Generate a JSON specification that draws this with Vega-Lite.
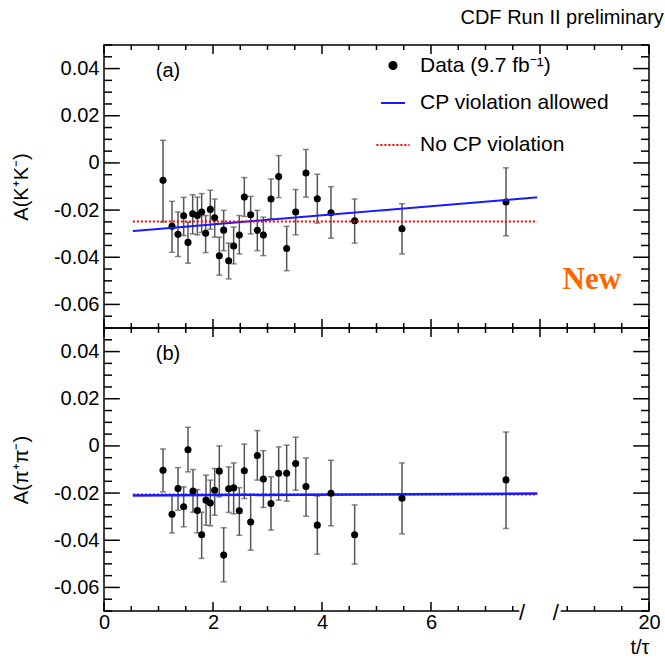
{
  "$schema": "https://vega.github.io/schema/vega-lite/v6.json",
  "background": "white",
  "padding": {"left": 10, "top": 7, "right": 5, "bottom": 5},
  "config": {
    "font": "Liberation Sans",
    "view": {"stroke": "black", "strokeWidth": 1.5},
    "axis": {"labelFont": "Liberation Sans", "labelFontSize": 20, "labelColor": "black", "titleFont": "Liberation Sans", "titleFontSize": 20, "titleFontWeight": "normal", "titleColor": "black", "ticks": false, "domain": false, "grid": false, "labelFlush": false, "labelOverlap": false}
  },
  "title": {"text": "CDF Run II preliminary", "anchor": "end", "fontSize": 20, "fontWeight": "normal", "font": "Liberation Sans", "color": "black", "dx": 3, "offset": 16},
  "datasets": {
    "kk": [
      {"t": 1.083, "A": -0.0074, "hi": 0.0096, "lo": -0.0251},
      {"t": 1.248, "A": -0.0269, "hi": -0.0163, "lo": -0.0379},
      {"t": 1.358, "A": -0.0303, "hi": -0.0208, "lo": -0.0397},
      {"t": 1.462, "A": -0.0224, "hi": -0.0146, "lo": -0.0308},
      {"t": 1.541, "A": -0.0337, "hi": -0.0251, "lo": -0.0425},
      {"t": 1.627, "A": -0.0216, "hi": -0.0135, "lo": -0.0301},
      {"t": 1.713, "A": -0.0223, "hi": -0.0145, "lo": -0.0305},
      {"t": 1.792, "A": -0.0208, "hi": -0.013, "lo": -0.0295},
      {"t": 1.865, "A": -0.0298, "hi": -0.0223, "lo": -0.038},
      {"t": 1.951, "A": -0.0197, "hi": -0.0116, "lo": -0.0281},
      {"t": 2.031, "A": -0.0233, "hi": -0.0153, "lo": -0.0315},
      {"t": 2.116, "A": -0.0394, "hi": -0.0315, "lo": -0.0476},
      {"t": 2.196, "A": -0.0285, "hi": -0.0201, "lo": -0.0372},
      {"t": 2.287, "A": -0.0415, "hi": -0.034, "lo": -0.0492},
      {"t": 2.379, "A": -0.0352, "hi": -0.0272, "lo": -0.0428},
      {"t": 2.483, "A": -0.0306, "hi": -0.0223, "lo": -0.0386},
      {"t": 2.575, "A": -0.0145, "hi": -0.0062, "lo": -0.0227},
      {"t": 2.691, "A": -0.022, "hi": -0.0142, "lo": -0.0301},
      {"t": 2.813, "A": -0.0286, "hi": -0.0201, "lo": -0.0372},
      {"t": 2.924, "A": -0.0306, "hi": -0.023, "lo": -0.0393},
      {"t": 3.064, "A": -0.0153, "hi": -0.0068, "lo": -0.0237},
      {"t": 3.205, "A": -0.0058, "hi": 0.0031, "lo": -0.0147},
      {"t": 3.352, "A": -0.0363, "hi": -0.0269, "lo": -0.0457},
      {"t": 3.517, "A": -0.0208, "hi": -0.0113, "lo": -0.0305},
      {"t": 3.706, "A": -0.0043, "hi": 0.0057, "lo": -0.0145},
      {"t": 3.914, "A": -0.0152, "hi": -0.0048, "lo": -0.0255},
      {"t": 4.165, "A": -0.0211, "hi": -0.0101, "lo": -0.0319},
      {"t": 4.599, "A": -0.0245, "hi": -0.0153, "lo": -0.034},
      {"t": 5.468, "A": -0.0279, "hi": -0.0173, "lo": -0.0386},
      {"t": 7.376, "A": -0.0166, "hi": -0.0021, "lo": -0.0309}
    ],
    "pipi": [
      {"t": 1.083, "A": -0.0103, "hi": -0.0013, "lo": -0.0195},
      {"t": 1.248, "A": -0.029, "hi": -0.0209, "lo": -0.0369},
      {"t": 1.358, "A": -0.0181, "hi": -0.0092, "lo": -0.0273},
      {"t": 1.462, "A": -0.0258, "hi": -0.0174, "lo": -0.0343},
      {"t": 1.541, "A": -0.0016, "hi": 0.0079, "lo": -0.011},
      {"t": 1.633, "A": -0.0191, "hi": -0.01, "lo": -0.0281},
      {"t": 1.713, "A": -0.0274, "hi": -0.0185, "lo": -0.0369},
      {"t": 1.792, "A": -0.0377, "hi": -0.0281, "lo": -0.0477},
      {"t": 1.872, "A": -0.023, "hi": -0.0124, "lo": -0.0336},
      {"t": 1.951, "A": -0.0242, "hi": -0.0145, "lo": -0.0339},
      {"t": 2.031, "A": -0.0188, "hi": -0.0096, "lo": -0.0294},
      {"t": 2.116, "A": -0.0107, "hi": 0.0, "lo": -0.0216},
      {"t": 2.196, "A": -0.0463, "hi": -0.0347, "lo": -0.0576},
      {"t": 2.287, "A": -0.0182, "hi": -0.0089, "lo": -0.0282},
      {"t": 2.379, "A": -0.0178, "hi": -0.0072, "lo": -0.0288},
      {"t": 2.483, "A": -0.0275, "hi": -0.0177, "lo": -0.0379},
      {"t": 2.575, "A": -0.0105, "hi": 0.0008, "lo": -0.0223},
      {"t": 2.691, "A": -0.0323, "hi": -0.0209, "lo": -0.0442},
      {"t": 2.813, "A": -0.0041, "hi": 0.0065, "lo": -0.0145},
      {"t": 2.924, "A": -0.014, "hi": -0.002, "lo": -0.0261},
      {"t": 3.064, "A": -0.0244, "hi": -0.0131, "lo": -0.0357},
      {"t": 3.205, "A": -0.0116, "hi": -0.0004, "lo": -0.023},
      {"t": 3.352, "A": -0.0116, "hi": 0.0003, "lo": -0.0234},
      {"t": 3.517, "A": -0.0075, "hi": 0.0037, "lo": -0.0188},
      {"t": 3.706, "A": -0.0172, "hi": -0.0051, "lo": -0.0298},
      {"t": 3.914, "A": -0.0336, "hi": -0.0213, "lo": -0.0459},
      {"t": 4.165, "A": -0.0201, "hi": -0.0061, "lo": -0.0339},
      {"t": 4.599, "A": -0.0377, "hi": -0.025, "lo": -0.0501},
      {"t": 5.468, "A": -0.0222, "hi": -0.0072, "lo": -0.0373},
      {"t": 7.376, "A": -0.0144, "hi": 0.0059, "lo": -0.035}
    ],
    "kkfit": [
      {"t": 0.53, "A": -0.0289, "model": "CP violation allowed"},
      {"t": 7.95, "A": -0.0146, "model": "CP violation allowed"},
      {"t": 0.53, "A": -0.0248, "model": "No CP violation"},
      {"t": 7.95, "A": -0.0248, "model": "No CP violation"}
    ],
    "pipifit": [
      {"t": 0.53, "A": -0.0206, "model": "No CP violation"},
      {"t": 7.95, "A": -0.0206, "model": "No CP violation"},
      {"t": 0.53, "A": -0.0210, "model": "CP violation allowed"},
      {"t": 7.95, "A": -0.0202, "model": "CP violation allowed"}
    ],
    "ymaj": [{"at": -0.06}, {"at": -0.04}, {"at": -0.02}, {"at": 0}, {"at": 0.02}, {"at": 0.04}],
    "ymin": [{"at": -0.07}, {"at": -0.065}, {"at": -0.055}, {"at": -0.05}, {"at": -0.045}, {"at": -0.035}, {"at": -0.03}, {"at": -0.025}, {"at": -0.015}, {"at": -0.01}, {"at": -0.005}, {"at": 0.005}, {"at": 0.01}, {"at": 0.015}, {"at": 0.025}, {"at": 0.03}, {"at": 0.035}, {"at": 0.045}, {"at": 0.05}],
    "xmaj": [{"at": 0}, {"at": 2}, {"at": 4}, {"at": 6}, {"at": 8}, {"at": 10}],
    "xmajb": [{"at": 0}, {"at": 2}, {"at": 4}, {"at": 6}, {"at": 10}],
    "xmin": [{"at": 0.5}, {"at": 1}, {"at": 1.5}, {"at": 2.5}, {"at": 3}, {"at": 3.5}, {"at": 4.5}, {"at": 5}, {"at": 5.5}, {"at": 6.5}, {"at": 7}, {"at": 7.5}, {"at": 8.5}, {"at": 9}, {"at": 9.5}]
  },
  "spacing": 0,
  "bounds": "flush",
  "vconcat": [
    {
      "width": 545,
      "height": 283,
      "layer": [
        {
          "data": {"name": "kk"},
          "mark": {"type": "rule", "color": "#555", "strokeWidth": 1.5},
          "encoding": {
            "x": {"field": "t", "type": "quantitative", "scale": {"domain": [0, 10], "nice": false, "zero": false}, "axis": null},
            "y": {"field": "lo", "type": "quantitative", "scale": {"domain": [-0.07, 0.05], "nice": false, "zero": false},
              "axis": {"orient": "left", "title": "A(K⁺K⁻)", "titlePadding": 22,
                "values": [-0.06, -0.04, -0.02, 0, 0.02, 0.04],
                "labelExpr": "datum.value == 0 ? '0' : (datum.value < 0 ? '-' : '') + format(abs(datum.value), '.2f')",
                "labelPadding": 5}},
            "y2": {"field": "hi"}
          }
        },
        {"data": {"name": "kk"}, "mark": {"type": "tick", "orient": "horizontal", "size": 6, "thickness": 1.5, "color": "#555"},
          "encoding": {"x": {"field": "t", "type": "quantitative", "axis": null}, "y": {"field": "lo", "type": "quantitative", "axis": null}}},
        {"data": {"name": "kk"}, "mark": {"type": "tick", "orient": "horizontal", "size": 6, "thickness": 1.5, "color": "#555"},
          "encoding": {"x": {"field": "t", "type": "quantitative", "axis": null}, "y": {"field": "hi", "type": "quantitative", "axis": null}}},
        {
          "data": {"name": "kk"},
          "mark": {"type": "point", "filled": true, "opacity": 1, "strokeWidth": 0},
          "encoding": {
            "x": {"field": "t", "type": "quantitative", "axis": null},
            "y": {"field": "A", "type": "quantitative", "axis": null},
            "color": {"datum": "Data (9.7 fb⁻¹)", "type": "nominal",
              "scale": {"domain": ["Data (9.7 fb⁻¹)", "CP violation allowed", "No CP violation"], "range": ["black", "#1a1aff", "#ff0000"]},
              "legend": {"orient": "none", "legendX": 271, "legendY": 10, "title": null, "labelFontSize": 21, "labelFont": "Liberation Sans", "labelColor": "black", "labelLimit": 0, "symbolStrokeWidth": 2, "rowPadding": 14, "labelOffset": 9}},
            "shape": {"datum": "Data (9.7 fb⁻¹)", "type": "nominal",
              "scale": {"domain": ["Data (9.7 fb⁻¹)", "CP violation allowed", "No CP violation"], "range": ["circle", "stroke", "stroke"]},
              "legend": {"orient": "none", "legendX": 271, "legendY": 10, "title": null, "labelFontSize": 21, "labelFont": "Liberation Sans", "labelColor": "black", "labelLimit": 0, "symbolStrokeWidth": 2, "rowPadding": 14, "labelOffset": 9}},
            "size": {"datum": "Data (9.7 fb⁻¹)", "type": "nominal",
              "scale": {"domain": ["Data (9.7 fb⁻¹)", "CP violation allowed", "No CP violation"], "range": [50, 1100, 1100]},
              "legend": {"orient": "none", "legendX": 271, "legendY": 10, "title": null, "labelFontSize": 21, "labelFont": "Liberation Sans", "labelColor": "black", "labelLimit": 0, "symbolStrokeWidth": 2, "rowPadding": 14, "labelOffset": 9}}
          }
        },
        {
          "data": {"name": "kkfit"},
          "mark": {"type": "line", "strokeWidth": 2},
          "encoding": {
            "x": {"field": "t", "type": "quantitative", "axis": null},
            "y": {"field": "A", "type": "quantitative", "axis": null},
            "color": {"field": "model", "type": "nominal"},
            "strokeDash": {"field": "model", "type": "nominal",
              "scale": {"domain": ["Data (9.7 fb⁻¹)", "CP violation allowed", "No CP violation"], "range": [[1, 0], [1, 0], [2, 2]]},
              "legend": {"orient": "none", "legendX": 271, "legendY": 10, "title": null, "labelFontSize": 21, "labelFont": "Liberation Sans", "labelColor": "black", "labelLimit": 0, "symbolStrokeWidth": 2, "rowPadding": 14, "labelOffset": 9}}
          }
        },
        {
          "data": {"values": [{"label": "(a)"}]},
          "mark": {"type": "text", "align": "left", "baseline": "middle", "fontSize": 20, "font": "Liberation Sans", "color": "black"},
          "encoding": {
            "x": {"datum": 0.95, "type": "quantitative", "axis": null},
            "y": {"datum": 0.0388, "type": "quantitative", "axis": null},
            "text": {"field": "label"}
          }
        },
        {
          "data": {"values": [{"label": "New"}]},
          "mark": {"type": "text", "align": "center", "baseline": "middle", "fontSize": 31, "font": "Liberation Serif", "fontWeight": "bold", "color": "#ff6600"},
          "encoding": {
            "x": {"datum": 8.95, "type": "quantitative", "axis": null},
            "y": {"datum": -0.0496, "type": "quantitative", "axis": null},
            "text": {"field": "label"}
          }
        },
        {"data": {"name": "ymaj"}, "mark": {"type": "rule", "color": "black", "strokeWidth": 1.5},
          "encoding": {"x": {"datum": 0, "type": "quantitative", "axis": null}, "x2": {"datum": 0.29}, "y": {"field": "at", "type": "quantitative", "axis": null}}},
        {"data": {"name": "ymin"}, "mark": {"type": "rule", "color": "black", "strokeWidth": 1.5},
          "encoding": {"x": {"datum": 0, "type": "quantitative", "axis": null}, "x2": {"datum": 0.147}, "y": {"field": "at", "type": "quantitative", "axis": null}}},
        {"data": {"name": "ymaj"}, "mark": {"type": "rule", "color": "black", "strokeWidth": 1.5},
          "encoding": {"x": {"datum": 9.71, "type": "quantitative", "axis": null}, "x2": {"datum": 10}, "y": {"field": "at", "type": "quantitative", "axis": null}}},
        {"data": {"name": "ymin"}, "mark": {"type": "rule", "color": "black", "strokeWidth": 1.5},
          "encoding": {"x": {"datum": 9.853, "type": "quantitative", "axis": null}, "x2": {"datum": 10}, "y": {"field": "at", "type": "quantitative", "axis": null}}},
        {"data": {"name": "xmaj"}, "mark": {"type": "rule", "color": "black", "strokeWidth": 1.5},
          "encoding": {"x": {"field": "at", "type": "quantitative", "axis": null}, "y": {"datum": 0.05, "type": "quantitative", "axis": null}, "y2": {"datum": 0.0462}}},
        {"data": {"name": "xmin"}, "mark": {"type": "rule", "color": "black", "strokeWidth": 1.5},
          "encoding": {"x": {"field": "at", "type": "quantitative", "axis": null}, "y": {"datum": 0.05, "type": "quantitative", "axis": null}, "y2": {"datum": 0.0479}}},
        {"data": {"name": "xmaj"}, "mark": {"type": "rule", "color": "black", "strokeWidth": 1.5},
          "encoding": {"x": {"field": "at", "type": "quantitative", "axis": null}, "y": {"datum": -0.07, "type": "quantitative", "axis": null}, "y2": {"datum": -0.0662}}},
        {"data": {"name": "xmin"}, "mark": {"type": "rule", "color": "black", "strokeWidth": 1.5},
          "encoding": {"x": {"field": "at", "type": "quantitative", "axis": null}, "y": {"datum": -0.07, "type": "quantitative", "axis": null}, "y2": {"datum": -0.0679}}}
      ],
      "resolve": {"axis": {"x": "independent", "y": "independent"}}
    },
    {
      "width": 545,
      "height": 283,
      "layer": [
        {
          "data": {"name": "pipi"},
          "mark": {"type": "rule", "color": "#555", "strokeWidth": 1.5},
          "encoding": {
            "x": {"field": "t", "type": "quantitative", "scale": {"domain": [0, 10], "nice": false, "zero": false},
              "axis": {"orient": "bottom", "title": "t/τ", "titleAnchor": "end", "titleAlign": "right", "titlePadding": 5,
                "values": [0, 2, 4, 6, 10],
                "labelExpr": "datum.value == 10 ? '20' : format(datum.value, 'd')",
                "labelPadding": 1}},
            "y": {"field": "lo", "type": "quantitative", "scale": {"domain": [-0.07, 0.05], "nice": false, "zero": false},
              "axis": {"orient": "left", "title": "A(π⁺π⁻)", "titlePadding": 22,
                "values": [-0.06, -0.04, -0.02, 0, 0.02, 0.04],
                "labelExpr": "datum.value == 0 ? '0' : (datum.value < 0 ? '-' : '') + format(abs(datum.value), '.2f')",
                "labelPadding": 5}},
            "y2": {"field": "hi"}
          }
        },
        {"data": {"name": "pipi"}, "mark": {"type": "tick", "orient": "horizontal", "size": 6, "thickness": 1.5, "color": "#555"},
          "encoding": {"x": {"field": "t", "type": "quantitative", "axis": null}, "y": {"field": "lo", "type": "quantitative", "axis": null}}},
        {"data": {"name": "pipi"}, "mark": {"type": "tick", "orient": "horizontal", "size": 6, "thickness": 1.5, "color": "#555"},
          "encoding": {"x": {"field": "t", "type": "quantitative", "axis": null}, "y": {"field": "hi", "type": "quantitative", "axis": null}}},
        {
          "data": {"name": "pipifit"},
          "transform": [{"filter": "datum.model == 'No CP violation'"}],
          "mark": {"type": "line", "strokeWidth": 2, "color": "#ff0000", "strokeDash": [2, 2]},
          "encoding": {
            "x": {"field": "t", "type": "quantitative", "axis": null},
            "y": {"field": "A", "type": "quantitative", "axis": null}
          }
        },
        {
          "data": {"name": "pipifit"},
          "transform": [{"filter": "datum.model == 'CP violation allowed'"}],
          "mark": {"type": "line", "strokeWidth": 2.5, "color": "#1a1aff"},
          "encoding": {
            "x": {"field": "t", "type": "quantitative", "axis": null},
            "y": {"field": "A", "type": "quantitative", "axis": null}
          }
        },
        {
          "data": {"name": "pipi"},
          "mark": {"type": "point", "filled": true, "opacity": 1, "strokeWidth": 0, "color": "black", "size": 50},
          "encoding": {
            "x": {"field": "t", "type": "quantitative", "axis": null},
            "y": {"field": "A", "type": "quantitative", "axis": null}
          }
        },
        {
          "data": {"values": [{"label": "(b)"}]},
          "mark": {"type": "text", "align": "left", "baseline": "middle", "fontSize": 20, "font": "Liberation Sans", "color": "black"},
          "encoding": {
            "x": {"datum": 0.95, "type": "quantitative", "axis": null},
            "y": {"datum": 0.0388, "type": "quantitative", "axis": null},
            "text": {"field": "label"}
          }
        },
        {"data": {"name": "ymaj"}, "mark": {"type": "rule", "color": "black", "strokeWidth": 1.5},
          "encoding": {"x": {"datum": 0, "type": "quantitative", "axis": null}, "x2": {"datum": 0.29}, "y": {"field": "at", "type": "quantitative", "axis": null}}},
        {"data": {"name": "ymin"}, "mark": {"type": "rule", "color": "black", "strokeWidth": 1.5},
          "encoding": {"x": {"datum": 0, "type": "quantitative", "axis": null}, "x2": {"datum": 0.147}, "y": {"field": "at", "type": "quantitative", "axis": null}}},
        {"data": {"name": "ymaj"}, "mark": {"type": "rule", "color": "black", "strokeWidth": 1.5},
          "encoding": {"x": {"datum": 9.71, "type": "quantitative", "axis": null}, "x2": {"datum": 10}, "y": {"field": "at", "type": "quantitative", "axis": null}}},
        {"data": {"name": "ymin"}, "mark": {"type": "rule", "color": "black", "strokeWidth": 1.5},
          "encoding": {"x": {"datum": 9.853, "type": "quantitative", "axis": null}, "x2": {"datum": 10}, "y": {"field": "at", "type": "quantitative", "axis": null}}},
        {"data": {"name": "xmaj"}, "mark": {"type": "rule", "color": "black", "strokeWidth": 1.5},
          "encoding": {"x": {"field": "at", "type": "quantitative", "axis": null}, "y": {"datum": 0.05, "type": "quantitative", "axis": null}, "y2": {"datum": 0.0462}}},
        {"data": {"name": "xmin"}, "mark": {"type": "rule", "color": "black", "strokeWidth": 1.5},
          "encoding": {"x": {"field": "at", "type": "quantitative", "axis": null}, "y": {"datum": 0.05, "type": "quantitative", "axis": null}, "y2": {"datum": 0.0479}}},
        {"data": {"name": "xmajb"}, "mark": {"type": "rule", "color": "black", "strokeWidth": 1.5},
          "encoding": {"x": {"field": "at", "type": "quantitative", "axis": null}, "y": {"datum": -0.07, "type": "quantitative", "axis": null}, "y2": {"datum": -0.0662}}},
        {"data": {"name": "xmin"}, "mark": {"type": "rule", "color": "black", "strokeWidth": 1.5},
          "encoding": {"x": {"field": "at", "type": "quantitative", "axis": null}, "y": {"datum": -0.07, "type": "quantitative", "axis": null}, "y2": {"datum": -0.0679}}},
        {
          "data": {"values": [{"gap": "break"}]},
          "mark": {"type": "rule", "color": "white", "strokeWidth": 4},
          "encoding": {
            "x": {"datum": 7.62, "type": "quantitative", "axis": null},
            "x2": {"datum": 8.38},
            "y": {"datum": -0.07, "type": "quantitative", "axis": null}
          }
        },
        {
          "data": {"values": [{"pos": 7.67, "s": "/"}, {"pos": 8.29, "s": "/"}]},
          "mark": {"type": "text", "align": "center", "baseline": "middle", "fontSize": 22, "font": "Liberation Sans", "color": "black", "dy": 2},
          "encoding": {
            "x": {"field": "pos", "type": "quantitative", "axis": null},
            "y": {"datum": -0.07, "type": "quantitative", "axis": null},
            "text": {"field": "s"}
          }
        }
      ],
      "resolve": {"axis": {"x": "independent", "y": "independent"}}
    }
  ]
}
